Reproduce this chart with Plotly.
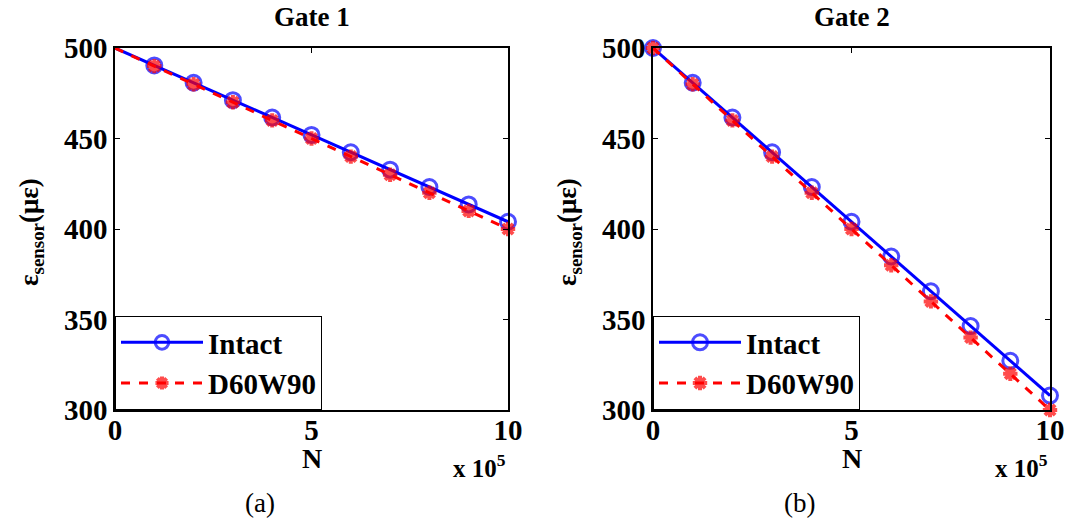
import plotly.graph_objects as go
from plotly.subplots import make_subplots

# Load cycles N (in units of 1e5) and sensor strain readings (microstrain)
cycles = [0, 1, 2, 3, 4, 5, 6, 7, 8, 9, 10]

gate1_intact = [500, 490.4, 480.8, 471.2, 461.6, 452.0, 442.4, 432.8, 423.2, 413.6, 404.0]
gate1_damaged = [500, 490, 480, 470, 460, 450, 440, 430, 420, 410, 400]

gate2_intact = [500, 480.8, 461.6, 442.4, 423.2, 404.0, 384.8, 365.6, 346.4, 327.2, 308.0]
gate2_damaged = [500, 480, 460, 440, 420, 400, 380, 360, 340, 320, 300]

panel_titles = ["Gate 1", "Gate 2"]
panel_tags = ["(a)", "(b)"]
series_names = ["Intact", "D60W90"]
y_ticks = [300, 350, 400, 450, 500]
x_ticks = [0, 5, 10]

FONT = "Times New Roman, Liberation Serif, serif"
BLUE = "#0000ff"
RED = "#ff0000"

W, H = 1067, 523
# plot-area edges in pixels
left_px = [(115, 508), (653, 1050)]
top_px, bot_px = 48, 410


def bold(v):
    return "<b>%s</b>" % v


fig = make_subplots(rows=1, cols=2)

panels = [(gate1_intact, gate1_damaged, False), (gate2_intact, gate2_damaged, True)]
for i, (intact, damaged, first_marker) in enumerate(panels):
    col = i + 1
    legend_id = "legend" if i == 0 else "legend2"
    sizes = [15] * len(cycles)
    dsizes = [12] * len(cycles)
    if not first_marker:
        sizes[0] = 0
        dsizes[0] = 0
    fig.add_trace(go.Scatter(
        x=cycles, y=intact, name=bold(series_names[0]), mode="lines+markers",
        line=dict(color=BLUE, width=3),
        marker=dict(symbol="circle-open", size=sizes, color=BLUE, line=dict(width=3, color=BLUE)),
        cliponaxis=False, legend=legend_id,
    ), row=1, col=col)
    fig.add_trace(go.Scatter(
        x=cycles, y=damaged, name=bold(series_names[1]), mode="lines+markers",
        line=dict(color=RED, width=3, dash="dash"),
        marker=dict(symbol="asterisk", size=dsizes, color=RED, line=dict(width=4, color=RED)),
        cliponaxis=False, legend=legend_id,
    ), row=1, col=col)

axis_common = dict(
    showline=True, linecolor="black", linewidth=1.5, mirror="ticks",
    ticks="inside", ticklen=5, tickwidth=1, tickcolor="black",
    showgrid=False, zeroline=False, automargin=False,
    tickfont=dict(family=FONT, size=29, color="black"),
)

for i in range(2):
    x0, x1 = left_px[i]
    xd = [x0 / W, x1 / W]
    yd = [1 - bot_px / H, 1 - top_px / H]
    xa = "xaxis" if i == 0 else "xaxis2"
    ya = "yaxis" if i == 0 else "yaxis2"
    fig.layout[xa].update(domain=xd, range=[0, 10], tickvals=x_ticks,
                          ticktext=[bold(t) for t in x_ticks], ticklabelstandoff=-7,
                          **axis_common)
    fig.layout[ya].update(domain=yd, range=[300, 500], tickvals=y_ticks,
                          ticktext=[bold(t) for t in y_ticks], **axis_common)

    cx = (x0 + x1) / 2 / W
    ann = dict(xref="paper", yref="paper", showarrow=False, xanchor="center", yanchor="middle")
    # panel title
    fig.add_annotation(text=bold(panel_titles[i]), x=cx, y=1 - 17 / H,
                       font=dict(family=FONT, size=27, color="black"), **ann)
    # y-axis label
    fig.add_annotation(text=bold("ε<sub>sensor</sub>(με)"), x=(x0 - 84) / W, y=1 - 232 / H,
                       textangle=-90, font=dict(family=FONT, size=27, color="black"), **ann)
    # x-axis label
    fig.add_annotation(text=bold("N"), x=(x0 + (x1 - x0) * 0.5) / W, y=1 - 458 / H,
                       font=dict(family=FONT, size=28, color="black"), **ann)
    # exponent
    fig.add_annotation(text=bold("x 10<sup>5</sup>"), x=(x1 - 29) / W, y=1 - 466 / H,
                       font=dict(family=FONT, size=25, color="black"), **ann)
    # panel tag
    fig.add_annotation(text=panel_tags[i], x=(x0 + (x1 - x0) * 0.37) / W, y=1 - 503 / H,
                       font=dict(family=FONT, size=27, color="black"), **ann)

legend_common = dict(
    xanchor="left", yanchor="bottom", bgcolor="white",
    bordercolor="black", borderwidth=1,
    font=dict(family=FONT, size=29, color="black"),
    tracegroupgap=0, itemwidth=82,
)
fig.update_layout(
    legend=dict(x=left_px[0][0] / W, y=1 - bot_px / H, **legend_common),
    legend2=dict(x=left_px[1][0] / W, y=1 - bot_px / H, **legend_common),
    width=W, height=H, margin=dict(l=0, r=0, t=0, b=0, autoexpand=False),
    paper_bgcolor="white", plot_bgcolor="white", showlegend=True,
)

fig.write_html("out.html")
